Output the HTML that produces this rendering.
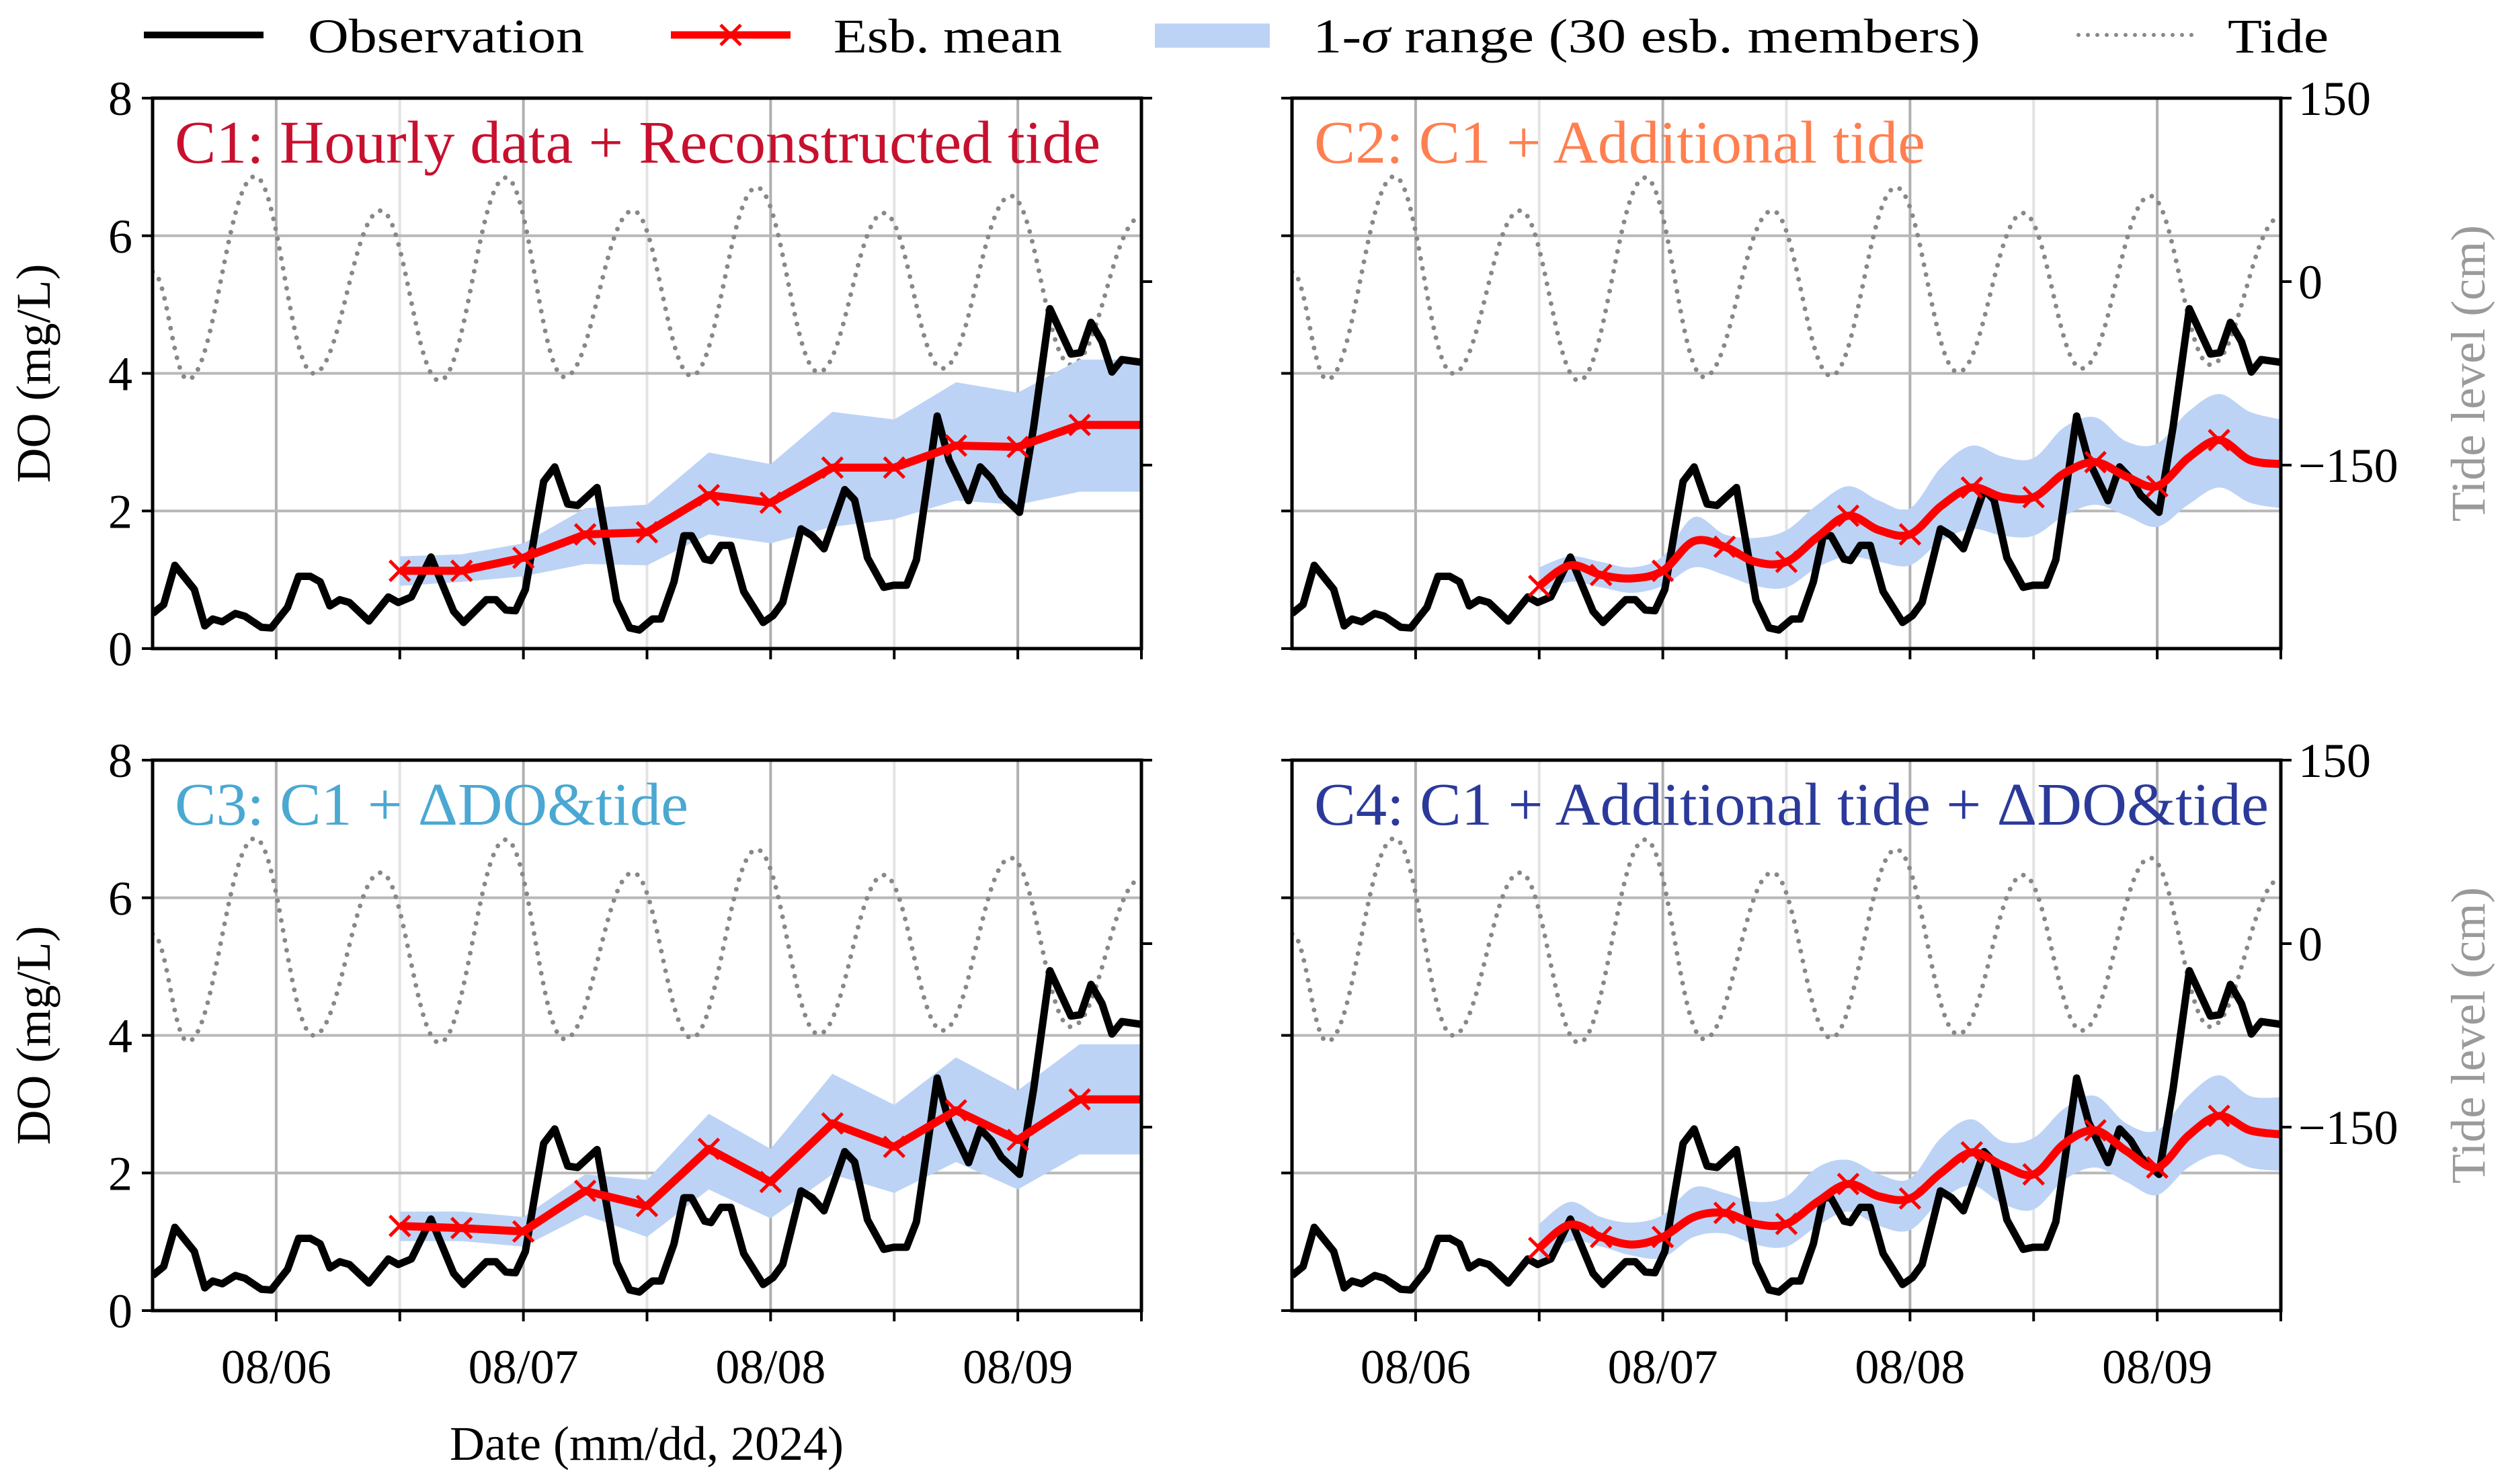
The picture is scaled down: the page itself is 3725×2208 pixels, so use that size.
<!DOCTYPE html>
<html><head><meta charset="utf-8">
<style>
html,body{margin:0;padding:0;background:#fff;}
svg{display:block;font-family:"Liberation Serif",serif;}
</style></head>
<body>
<svg id="chart" width="3725" height="2208" viewBox="0 0 3725 2208" xmlns="http://www.w3.org/2000/svg">
  <rect x="0" y="0" width="3725" height="2208" fill="#fff"/>
  <g id="legend">
    <g>
      <line x1="214" y1="52" x2="392" y2="52" stroke="#000" stroke-width="10"/>
      <text x="458" y="78" font-size="72" textLength="411" lengthAdjust="spacingAndGlyphs">Observation</text>
    </g>
    <g>
      <line x1="998" y1="52" x2="1176" y2="52" stroke="#ff0000" stroke-width="11"/>
      <path d="M1072 37 L1102 67 M1102 37 L1072 67" stroke="#ff0000" stroke-width="5"/>
      <text x="1240" y="78" font-size="72" textLength="340" lengthAdjust="spacingAndGlyphs">Esb. mean</text>
    </g>
    <g>
      <rect x="1718" y="35" width="171" height="36" fill="#bcd3f6"/>
      <text x="1953" y="78" font-size="72" textLength="993" lengthAdjust="spacingAndGlyphs">1-<tspan font-style="italic">σ</tspan> range (30 esb. members)</text>
    </g>
    <g>
      <line x1="3092" y1="52" x2="3266" y2="52" stroke="#888" stroke-width="6" stroke-dasharray="0 14" stroke-linecap="round"/>
      <text x="3314" y="78" font-size="72" textLength="150" lengthAdjust="spacingAndGlyphs">Tide</text>
    </g>
  </g>
  <g id="panels"></g>
</svg>
<script>
// ---- shared data ----
const obsDays = [5.500,5.545,5.590,5.669,5.711,5.743,5.782,5.835,5.874,5.940,5.980,6.046,6.091,6.138,6.178,6.217,6.257,6.296,6.375,6.454,6.494,6.547,6.626,6.718,6.758,6.850,6.889,6.929,6.968,7.008,7.082,7.127,7.179,7.219,7.298,7.377,7.430,7.469,7.522,7.556,7.609,7.649,7.680,7.733,7.759,7.799,7.839,7.891,7.970,8.010,8.049,8.123,8.168,8.216,8.300,8.340,8.392,8.458,8.498,8.550,8.590,8.674,8.722,8.801,8.848,8.893,8.933,9.007,9.064,9.130,9.215,9.254,9.296,9.341,9.381,9.421,9.500];
const obsValues = [0.51,0.64,1.21,0.86,0.33,0.43,0.39,0.51,0.47,0.31,0.30,0.60,1.05,1.05,0.97,0.62,0.71,0.67,0.40,0.75,0.67,0.75,1.33,0.54,0.38,0.71,0.71,0.56,0.55,0.86,2.43,2.64,2.10,2.08,2.34,0.70,0.30,0.27,0.43,0.43,0.97,1.64,1.64,1.30,1.28,1.50,1.50,0.83,0.38,0.48,0.67,1.74,1.64,1.45,2.31,2.16,1.32,0.89,0.92,0.92,1.29,3.38,2.74,2.15,2.64,2.47,2.23,1.98,3.22,4.94,4.28,4.30,4.74,4.46,4.02,4.20,4.16];
const tideDays = [5.5,5.642,5.914,6.151,6.423,6.660,6.929,7.166,7.443,7.680,7.944,8.194,8.458,8.695,8.972,9.215,9.5];
const tideLevels = [8,-80,86,-75,58,-81,85,-78,58,-77,77,-74,56,-71,70,-68,53];
const xTickDays = [6,7,8,9];
const xTickLabels = ["08/06","08/07","08/08","08/09"];
const yTicks = [0,2,4,6,8];
const tideTicks = [150,0,-150];
const tideTickLabels = ["150","0","\u2212150"];

// ---- C1 (6-hourly, linear) ----
const c1Days = [6.5,6.75,7.0,7.25,7.5,7.75,8.0,8.25,8.5,8.75,9.0,9.25,9.5];
const c1Mean = [1.13,1.13,1.32,1.66,1.69,2.23,2.12,2.63,2.63,2.95,2.93,3.25,3.25];
const c1Upper = [1.34,1.37,1.53,2.04,2.09,2.85,2.68,3.44,3.33,3.87,3.72,4.20,4.20];
const c1Lower = [0.91,0.97,1.05,1.23,1.21,1.66,1.53,1.77,1.88,2.15,2.09,2.28,2.28];
// ---- C3 (6-hourly, linear) ----
const c3Days = [6.5,6.75,7.0,7.25,7.5,7.75,8.0,8.25,8.5,8.75,9.0,9.25,9.5];
const c3Mean = [1.23,1.20,1.15,1.74,1.52,2.35,1.87,2.72,2.38,2.91,2.48,3.07,3.07];
const c3Upper = [1.44,1.44,1.36,1.98,1.90,2.86,2.35,3.44,2.99,3.68,3.20,3.87,3.87];
const c3Lower = [1.01,1.01,0.93,1.39,1.07,1.76,1.34,1.98,1.71,2.16,1.76,2.27,2.27];
// ---- C2 (3-hourly, smooth) ----
const c2Days = [6.5,6.625,6.75,6.875,7.0,7.125,7.25,7.375,7.5,7.625,7.75,7.875,8.0,8.125,8.25,8.375,8.5,8.625,8.75,8.875,9.0,9.125,9.25,9.375,9.5];
const c2Mean = [0.91,1.21,1.07,1.02,1.13,1.56,1.48,1.26,1.26,1.62,1.93,1.72,1.66,2.07,2.34,2.20,2.20,2.55,2.71,2.50,2.36,2.77,3.03,2.74,2.68];
const c2Upper = [1.18,1.34,1.26,1.18,1.34,1.91,1.66,1.61,1.72,2.09,2.36,2.15,2.04,2.63,2.95,2.79,2.77,3.22,3.36,3.01,2.98,3.44,3.70,3.44,3.33];
const c2Lower = [0.81,0.97,0.89,0.81,0.91,1.18,1.07,0.91,0.89,1.18,1.34,1.26,1.21,1.56,1.74,1.64,1.64,1.93,2.09,1.93,1.77,2.09,2.34,2.12,2.04];
// ---- C4 (3-hourly, smooth) ----
const c4Days = [6.5,6.625,6.75,6.875,7.0,7.125,7.25,7.375,7.5,7.625,7.75,7.875,8.0,8.125,8.25,8.375,8.5,8.625,8.75,8.875,9.0,9.125,9.25,9.375,9.5];
const c4Mean = [0.91,1.25,1.07,0.96,1.07,1.36,1.42,1.26,1.26,1.58,1.84,1.66,1.63,2.00,2.30,2.11,1.98,2.43,2.62,2.32,2.08,2.54,2.83,2.62,2.56];
const c4Upper = [1.26,1.58,1.36,1.28,1.39,1.79,1.71,1.58,1.66,2.08,2.19,1.98,1.92,2.51,2.78,2.46,2.51,2.94,3.12,2.72,2.62,3.12,3.42,3.12,3.10];
const c4Lower = [0.72,1.01,0.93,0.80,0.77,1.07,1.12,0.96,0.93,1.23,1.44,1.23,1.17,1.60,1.82,1.55,1.47,1.90,2.08,1.87,1.68,2.08,2.27,2.08,2.03];

const panels = [
  {id:"c1", title:"C1: Hourly data + Reconstructed tide", color:"#c8102e", tw:1377, x0:227, y0:146, days:c1Days, mean:c1Mean, up:c1Upper, lo:c1Lower, smooth:false, left:true, right:false, bottom:false},
  {id:"c2", title:"C2: C1 + Additional tide", color:"#ff7f50", tw:909, x0:1922, y0:146, days:c2Days, mean:c2Mean, up:c2Upper, lo:c2Lower, smooth:true, left:false, right:true, bottom:false},
  {id:"c3", title:"C3: C1 + \u0394DO&tide", color:"#4aa8d2", tw:764, x0:227, y0:1131, days:c3Days, mean:c3Mean, up:c3Upper, lo:c3Lower, smooth:false, left:true, right:false, bottom:true},
  {id:"c4", title:"C4: C1 + Additional tide + \u0394DO&tide", color:"#2b3a9a", tw:1420, x0:1922, y0:1131, days:c4Days, mean:c4Mean, up:c4Upper, lo:c4Lower, smooth:true, left:false, right:true, bottom:true}
];
const W = 1471, H = 819, D0 = 5.5, D1 = 9.5;
const NS = "http://www.w3.org/2000/svg";
function mk(tag, attrs, parent){ const e=document.createElementNS(NS,tag); for(const k in attrs) e.setAttribute(k,attrs[k]); if(parent) parent.appendChild(e); return e; }
function linePath(pts){ return pts.map((p,i)=>(i?"L":"M")+p[0].toFixed(1)+" "+p[1].toFixed(1)).join(" "); }
function smoothPath(pts, move){
  let d = (move===false?"L":"M")+pts[0][0].toFixed(1)+" "+pts[0][1].toFixed(1);
  for(let i=0;i<pts.length-1;i++){
    const p0=pts[Math.max(0,i-1)], p1=pts[i], p2=pts[i+1], p3=pts[Math.min(pts.length-1,i+2)];
    const c1=[p1[0]+(p2[0]-p0[0])/6, p1[1]+(p2[1]-p0[1])/6];
    const c2=[p2[0]-(p3[0]-p1[0])/6, p2[1]-(p3[1]-p1[1])/6];
    d+=" C"+c1[0].toFixed(1)+" "+c1[1].toFixed(1)+" "+c2[0].toFixed(1)+" "+c2[1].toFixed(1)+" "+p2[0].toFixed(1)+" "+p2[1].toFixed(1);
  }
  return d;
}
const root = document.getElementById("panels");
panels.forEach(P=>{
  const xs = d => P.x0 + (d-D0)/(D1-D0)*W;
  const ys = v => P.y0 + H - v/8*H;
  const yt = t => P.y0 + H - (t+300)/450*H;
  const g = mk("g",{},root);
  
  
  const clip = mk("clipPath",{id:"clip-"+P.id},g);
  mk("rect",{x:P.x0,y:P.y0,width:W,height:H},clip);
  const grid = mk("g",{},g);
  
  
  for(let d=6; d<=9.5; d+=0.5){
    const major = Number.isInteger(d);
    const l = mk("line",{x1:xs(d),x2:xs(d),y1:P.y0,y2:P.y0+H,stroke:major?"#b0b0b0":"#e3e3e3","stroke-width":4},grid);
    
    
  }
  [2,4,6].forEach(v=>{
    const l = mk("line",{x1:P.x0,x2:P.x0+W,y1:ys(v),y2:ys(v),stroke:"#b8b8b8","stroke-width":4},grid);
    
    
  });
  const plot = mk("g",{"clip-path":"url(#clip-"+P.id+")"},g);
  const tp = tideDays.map((d,i)=>[xs(d), yt(tideLevels[i])]);
  let td = "M"+tp[0][0]+" "+tp[0][1];
  for(let i=0;i<tp.length-1;i++){ const dx=(tp[i+1][0]-tp[i][0])*0.4; td+=" C"+(tp[i][0]+dx)+" "+tp[i][1]+" "+(tp[i+1][0]-dx)+" "+tp[i+1][1]+" "+tp[i+1][0]+" "+tp[i+1][1]; }
  const tide = mk("path",{d:td,fill:"none",stroke:"#888","stroke-width":7,"stroke-dasharray":"0 15","stroke-linecap":"round"},plot);
  
  
  const up = P.days.map((d,i)=>[xs(d),ys(P.up[i])]);
  const lo = P.days.map((d,i)=>[xs(d),ys(P.lo[i])]).reverse();
  let bd = P.smooth ? smoothPath(up)+" "+smoothPath(lo,false)+" Z" : linePath(up.concat(lo))+" Z";
  const band = mk("path",{d:bd,fill:"#bcd3f6",stroke:"none"},plot);
  
  
  const op = obsDays.map((d,i)=>[xs(d),ys(obsValues[i])]);
  const obs = mk("path",{d:linePath(op),fill:"none",stroke:"#000","stroke-width":11,"stroke-linejoin":"round"},plot);
  
  
  const mp = P.days.map((d,i)=>[xs(d),ys(P.mean[i])]);
  const mean = mk("path",{d:P.smooth?smoothPath(mp):linePath(mp),fill:"none",stroke:"#ff0000","stroke-width":12,"stroke-linejoin":"round"},g);
  
  
  P.days.forEach((d,i)=>{
    if(P.smooth && i%2===1) return;
    if(d>=9.5) return;
    const x=xs(d), y=ys(P.mean[i]);
    const m = mk("path",{d:`M${x-15} ${y-15} L${x+15} ${y+15} M${x+15} ${y-15} L${x-15} ${y+15}`,stroke:"#ff0000","stroke-width":5},g);
    
    
  });
  const fr = mk("rect",{x:P.x0,y:P.y0,width:W,height:H,fill:"none",stroke:"#000","stroke-width":5},g);
  
  
  yTicks.forEach(v=>{
    mk("line",{x1:P.x0-16,x2:P.x0,y1:ys(v),y2:ys(v),stroke:"#000","stroke-width":4},g);
    if(P.left){
      const t = mk("text",{x:P.x0-30,y:ys(v)+25,"font-size":72,"text-anchor":"end"},g);
      t.textContent = v;
      
      
    }
  });
  tideTicks.forEach((t,i)=>{
    mk("line",{x1:P.x0+W,x2:P.x0+W+16,y1:yt(t),y2:yt(t),stroke:"#000","stroke-width":4},g);
    if(P.right){
      const tx = mk("text",{x:P.x0+W+26,y:yt(t)+25,"font-size":72},g);
      tx.textContent = tideTickLabels[i];
      
      
    }
  });
  for(let d=6; d<=9.5; d+=0.5){
    mk("line",{x1:xs(d),x2:xs(d),y1:P.y0+H,y2:P.y0+H+16,stroke:"#000","stroke-width":4},g);
  }
  if(P.bottom){
    xTickDays.forEach((d,i)=>{
      const t = mk("text",{x:xs(d),y:P.y0+H+108,"font-size":72,"text-anchor":"middle"},g);
      t.textContent = xTickLabels[i];
      
      
    });
  }
  if(P.left){
    const yl = mk("text",{x:0,y:0,"font-size":72,"text-anchor":"middle",transform:`translate(74 ${P.y0+H/2}) rotate(-90)`},g);
    yl.textContent = "DO (mg/L)";
    
    
  }
  if(P.right){
    const rl = mk("text",{x:0,y:0,"font-size":72,"text-anchor":"middle",fill:"#9a9a9a",transform:`translate(3696 ${P.y0+H/2}) rotate(-90)`},g);
    rl.textContent = "Tide level (cm)";
    
    
  }
  const ti = mk("text",{x:P.x0+33,y:P.y0+96,"font-size":90,fill:P.color,textLength:P.tw,lengthAdjust:"spacingAndGlyphs"},g);
  ti.textContent = P.title;
  
  
});
const xl = mk("text",{x:962,y:2172,"font-size":72,"text-anchor":"middle"},document.getElementById("chart"));
xl.textContent = "Date (mm/dd, 2024)";


</script>
</body></html>
